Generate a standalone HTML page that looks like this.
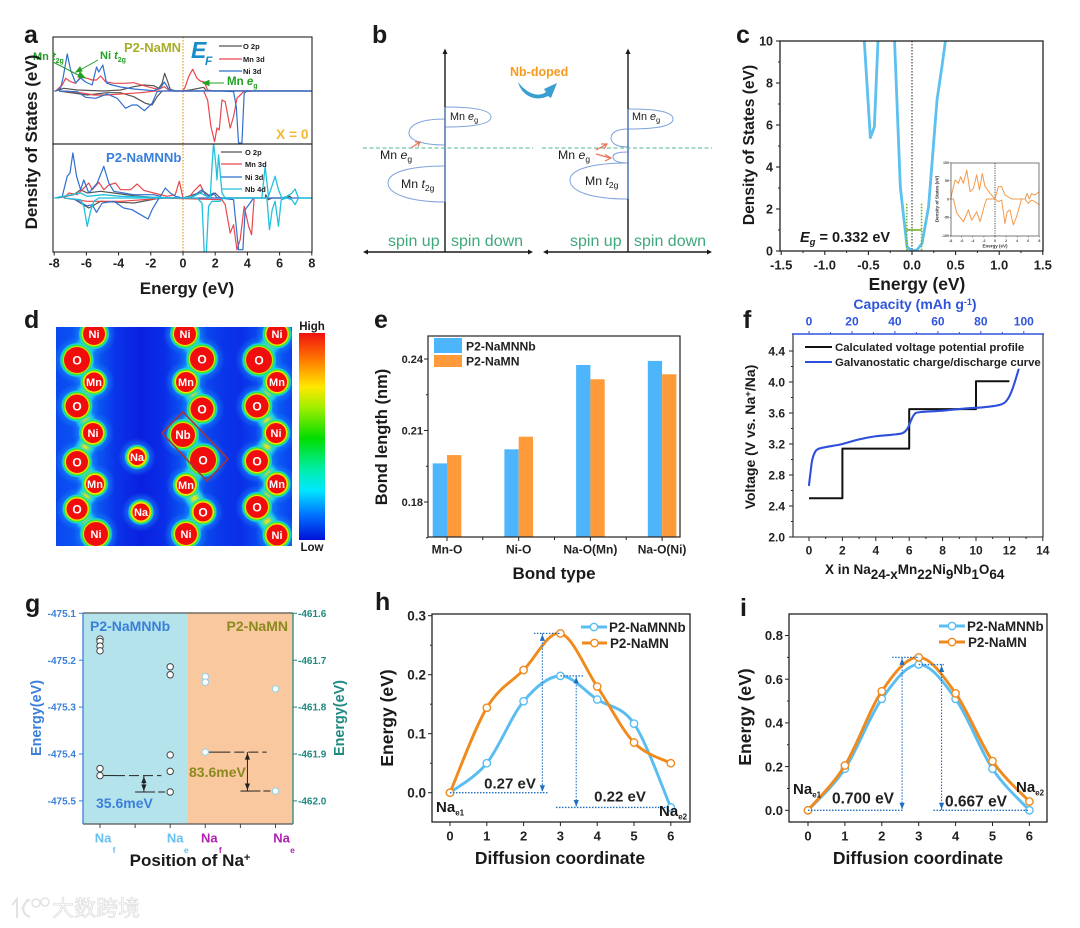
<!DOCTYPE html>
<html lang="en">
<head>
<meta charset="utf-8">
<title>Nb-doped P2-NaMN composite figure</title>
<style>
html,body{margin:0;padding:0;background:#fff;width:1080px;height:928px;overflow:hidden}
svg{display:block;filter:blur(0.35px)}
text{font-family:"Liberation Sans","Noto Sans CJK SC",sans-serif;font-weight:bold;fill:#1a1a1a}
.n{font-weight:normal}
</style>
</head>
<body>
<svg id="fig" xmlns="http://www.w3.org/2000/svg" width="1080" height="928" viewBox="0 0 1080 928">
<defs>
<clipPath id="clipATop"><rect x="53" y="37" width="259" height="107"/></clipPath>
<clipPath id="clipABot"><rect x="53" y="144" width="259" height="108"/></clipPath>
<clipPath id="clipC"><rect x="780" y="41" width="263" height="210"/></clipPath>
<clipPath id="clipD"><rect x="56" y="327" width="236" height="219"/></clipPath>
<filter id="ridgeBlur" x="-20%" y="-20%" width="140%" height="140%"><feGaussianBlur stdDeviation="1.6"/></filter>
<linearGradient id="mapBg" x1="0" x2="1" y1="0" y2="0">
<stop offset="0" stop-color="#0a47f0"/><stop offset=".16" stop-color="#0a60f5"/><stop offset=".25" stop-color="#0a35ea"/><stop offset=".36" stop-color="#0a20e0"/><stop offset=".46" stop-color="#0a2ee8"/><stop offset=".56" stop-color="#0a60f5"/><stop offset=".69" stop-color="#0a38ea"/><stop offset=".78" stop-color="#0a2ee8"/><stop offset=".93" stop-color="#0a60f5"/><stop offset="1" stop-color="#0a40f0"/>
</linearGradient>
<linearGradient id="cbar" x1="0" x2="0" y1="0" y2="1">
<stop offset="0" stop-color="#f01010"/><stop offset=".13" stop-color="#ff7a00"/><stop offset=".26" stop-color="#ffe800"/><stop offset=".36" stop-color="#a0ee00"/><stop offset=".51" stop-color="#00dd00"/><stop offset=".66" stop-color="#00eeaa"/><stop offset=".76" stop-color="#00e8ff"/><stop offset=".88" stop-color="#0070ff"/><stop offset="1" stop-color="#0010d8"/>
</linearGradient>
<radialGradient id="atomGlow">
<stop offset="0" stop-color="#ffe000"/><stop offset=".7" stop-color="#ffe000"/><stop offset=".76" stop-color="#a0f000"/><stop offset=".82" stop-color="#20dd50"/><stop offset=".9" stop-color="#20e8e0" stop-opacity=".8"/><stop offset="1" stop-color="#0a70f5" stop-opacity="0"/>
</radialGradient>
<radialGradient id="atomHalo">
<stop offset=".5" stop-color="#1a8cf8" stop-opacity=".85"/><stop offset="1" stop-color="#1a8cf8" stop-opacity="0"/>
</radialGradient>
</defs>

<g id="panelA">
<text x="24" y="43" font-size="25">a</text>
<line x1="183" y1="37" x2="183" y2="252" stroke="#f0a030" stroke-width="1.3" stroke-dasharray="1.5 1.5"/>
</g>
<g id="panelALabels">
<text x="124" y="52" font-size="13" style="fill:#a8ad2a">P2-NaMN</text>
<text x="191" y="58" font-size="23" font-style="italic" style="fill:#1a8cc8">E</text>
<text x="205" y="65" font-size="12" font-style="italic" style="fill:#1a8cc8">F</text>
<text x="276" y="139" font-size="13.8" style="fill:#f7b733">X = 0</text>
<text x="106" y="162" font-size="13.2" style="fill:#3a7fd8">P2-NaMNNb</text>
<text x="33" y="60" font-size="11" style="fill:#22a022">Mn <tspan font-style="italic">t</tspan><tspan dy="3" font-size="7">2g</tspan></text>
<text x="100" y="59" font-size="11" style="fill:#22a022">Ni <tspan font-style="italic">t</tspan><tspan dy="3" font-size="7">2g</tspan></text>
<text x="227" y="85" font-size="11.5" style="fill:#22a022">Mn <tspan font-style="italic">e</tspan><tspan dy="3" font-size="7">g</tspan></text>
<path d="M98 60L80 70M76 72L82 71L80 67Z M53 62L82 77M85 78L80 72L78 77Z M224 83L206 83M203 83L209 80.500L209 85.500Z" stroke="#22a022" stroke-width="1" fill="#22a022"/>
<g font-size="7.5">
<line x1="219" x2="242" y1="46" y2="46" stroke="#555" stroke-width="1.2"/><text x="243" y="49">O 2p</text>
<line x1="219" x2="242" y1="59" y2="59" stroke="#e8474c" stroke-width="1.2"/><text x="243" y="62">Mn 3d</text>
<line x1="219" x2="242" y1="71" y2="71" stroke="#2f6fd0" stroke-width="1.2"/><text x="243" y="74">Ni 3d</text>
</g>
<g font-size="7.5">
<line x1="221" x2="242" y1="152" y2="152" stroke="#555" stroke-width="1.2"/><text x="245" y="155">O 2p</text>
<line x1="221" x2="242" y1="164" y2="164" stroke="#e8474c" stroke-width="1.2"/><text x="245" y="167">Mn 3d</text>
<line x1="221" x2="242" y1="177" y2="177" stroke="#2f6fd0" stroke-width="1.2"/><text x="245" y="180">Ni 3d</text>
<line x1="221" x2="242" y1="189" y2="189" stroke="#22c1dc" stroke-width="1.2"/><text x="245" y="192">Nb 4d</text>
</g>
<text x="31" y="142" font-size="17" text-anchor="middle" transform="rotate(-90 31 142)" dy="6">Density of States (eV)</text>
<text x="187" y="294" font-size="17" text-anchor="middle">Energy (eV)</text>
</g>

<g id="panelB">
<text x="372" y="43" font-size="25">b</text>
<g fill="none" stroke="#7fa3dc" stroke-width="1">
<path d="M445 107C475 107 491 110 491 117C491 124 475 127 445 127"/>
<path d="M445 119C420 119 409 125 409 133C409 141 425 145 445 145"/>
<path d="M445 166C410 166 388 172 388 183C388 194 410 202 445 202"/>
<path d="M628 109C658 109 673 112 673 119C673 126 658 129 628 129"/>
<path d="M628 129C618 129 611 132 611 138C611 144 618 147 628 147"/>
<path d="M628 152C619 152 613 153 613 157C613 161 619 163 628 163"/>
<path d="M628 163C590 163 570 170 570 180C570 191 590 199 628 199"/>
</g>
<g stroke="#1a1a1a" stroke-width="1.4">
<line x1="445" y1="52" x2="445" y2="252"/>
<line x1="365" y1="252" x2="531" y2="252"/>
<line x1="628" y1="52" x2="628" y2="252"/>
<line x1="545" y1="252" x2="710" y2="252"/>
</g>
<line x1="445" y1="107" x2="445" y2="202" stroke="#5f8fd8" stroke-width="1.2"/>
<line x1="628" y1="109" x2="628" y2="199" stroke="#5f8fd8" stroke-width="1.2"/>
<path d="M445 48.500L442.500 54L447.500 54Z M363 252L368 249.500L368 254.500Z M533 252L528 249.500L528 254.500Z M628 48.500L625.500 54L630.500 54Z M543 252L548 249.500L548 254.500Z M712 252L707 249.500L707 254.500Z" fill="#1a1a1a"/>
<line x1="363" y1="148" x2="533" y2="148" stroke="#4fb58f" stroke-width="1" stroke-dasharray="4 2.500"/>
<line x1="542" y1="148" x2="712" y2="148" stroke="#4fb58f" stroke-width="1" stroke-dasharray="4 2.500"/>
<path d="M411 148L419 142.500M415 142L420 142L418 146.500 M596 150L606 144.500M601 144L607 144L604 149 M596 154L610 158M605 154.500L611 158L605 161" fill="none" stroke="#e8735a" stroke-width="1.2"/>
<g font-size="10.8">
<text class="n" x="450" y="120">Mn <tspan font-style="italic">e</tspan><tspan dy="2.500" font-size="7.500">g</tspan></text>
<text class="n" x="380" y="159" font-size="12.3">Mn <tspan font-style="italic">e</tspan><tspan dy="3" font-size="8.500">g</tspan></text>
<text class="n" x="401" y="188" font-size="12.300">Mn <tspan font-style="italic">t</tspan><tspan dy="3" font-size="8.500">2g</tspan></text>
<text class="n" x="632" y="120">Mn <tspan font-style="italic">e</tspan><tspan dy="2.500" font-size="7.500">g</tspan></text>
<text class="n" x="558" y="159" font-size="12.3">Mn <tspan font-style="italic">e</tspan><tspan dy="3" font-size="8.500">g</tspan></text>
<text class="n" x="585" y="185" font-size="12.300">Mn <tspan font-style="italic">t</tspan><tspan dy="3" font-size="8.500">2g</tspan></text>
</g>
<g font-size="16">
<text class="n" x="388" y="246" style="fill:#3fa87a">spin up</text>
<text class="n" x="451" y="246" style="fill:#3fa87a">spin down</text>
<text class="n" x="570" y="246" style="fill:#3fa87a">spin up</text>
<text class="n" x="634" y="246" style="fill:#3fa87a">spin down</text>
</g>
<text x="510" y="76" font-size="12.5" style="fill:#f79a1e">Nb-doped</text>
<path d="M518 82C521 94 534 103 548 96L551 98L557 83L544 89L546 92C538 98 526 93 518 82Z" fill="#3a9ed0"/>
</g>

<g id="panelC">
<text x="736" y="43" font-size="25">c</text>
<text x="748" y="145" dy="6" font-size="15.6" text-anchor="middle" transform="rotate(-90 748 145)">Density of States (eV)</text>
<text x="917" y="290" font-size="17.4" text-anchor="middle">Energy (eV)</text>
<text x="800" y="242" font-size="14.5"><tspan font-style="italic">E</tspan><tspan dy="3" font-size="9.500" font-style="italic">g</tspan><tspan dy="-3"> = 0.332 eV</tspan></text>
</g>

<g id="panelD">
<text x="24" y="328" font-size="25">d</text>
<rect x="56" y="327" width="236" height="219" fill="url(#mapBg)"/>
<rect x="299" y="333" width="26" height="207" fill="url(#cbar)"/>
<text x="312" y="330" font-size="11.5" text-anchor="middle">High</text>
<text x="312" y="551" font-size="11.5" text-anchor="middle">Low</text>
</g>

<g id="panelE">
<text x="374" y="328" font-size="25">e</text>
<text x="381" y="437" dy="6" font-size="16.5" text-anchor="middle" transform="rotate(-90 381 437)">Bond length (nm)</text>
<text x="554" y="579" font-size="17" text-anchor="middle">Bond type</text>
</g>

<g id="panelF">
<text x="743" y="328" font-size="25">f</text>
<text x="915" y="309" font-size="14" text-anchor="middle" style="fill:#2f55dc">Capacity (mAh g<tspan dy="-4" font-size="9">-1</tspan><tspan dy="4">)</tspan></text>
<text x="750" y="437" dy="5" font-size="14" text-anchor="middle" transform="rotate(-90 750 437)">Voltage (V vs. Na<tspan dy="-4" font-size="9.500">+</tspan><tspan dy="4">/Na)</tspan></text>
<text x="825" y="574" font-size="13.5">X in Na<tspan dy="5">24-x</tspan><tspan dy="-5">Mn</tspan><tspan dy="5">22</tspan><tspan dy="-5">Ni</tspan><tspan dy="5">9</tspan><tspan dy="-5">Nb</tspan><tspan dy="5">1</tspan><tspan dy="-5">O</tspan><tspan dy="5">64</tspan></text>
</g>

<g id="panelG">
<text x="25" y="612" font-size="25">g</text>
<rect x="83" y="613" width="105" height="211" fill="#b5e3ec"/>
<rect x="188" y="613" width="105" height="211" fill="#fac89e"/>
<text x="90" y="631" font-size="14" style="fill:#3a7fd8">P2-NaMNNb</text>
<text x="288" y="631" font-size="14" text-anchor="end" style="fill:#8b8a1e">P2-NaMN</text>
<text x="96" y="808" font-size="14" style="fill:#3a7fd8">35.6meV</text>
<text x="189" y="777" font-size="14" style="fill:#8b8a1e">83.6meV</text>
<text x="36" y="718" dy="5" font-size="14.4" text-anchor="middle" transform="rotate(-90 36 718)" style="fill:#3a7fd8">Energy(eV)</text>
<text x="339" y="718" dy="5" font-size="14.4" text-anchor="middle" transform="rotate(-90 339 718)" style="fill:#1f8a80">Energy(eV)</text>
<text x="190" y="866" font-size="17" text-anchor="middle">Position of Na<tspan dy="-5" font-size="11">+</tspan></text>
</g>

<g id="panelH">
<text x="375" y="610" font-size="25">h</text>
<text x="387" y="718" dy="6" font-size="17.5" text-anchor="middle" transform="rotate(-90 387 718)">Energy (eV)</text>
<text x="560" y="864" font-size="17.5" text-anchor="middle">Diffusion coordinate</text>
</g>

<g id="panelI">
<text x="740" y="616" font-size="25">i</text>
<text x="745" y="717" dy="6" font-size="17.5" text-anchor="middle" transform="rotate(-90 745 717)">Energy (eV)</text>
<text x="918" y="864" font-size="17.5" text-anchor="middle">Diffusion coordinate</text>
</g>

<g id="watermark">
<path d="M12 905L17 899L17 918 M30 900C22 902 20 914 30 917 M22 909L28 899" fill="none" stroke="#e2e2e2" stroke-width="2"/>
<circle cx="36" cy="903" r="4" fill="#fff" stroke="#e2e2e2" stroke-width="1.5"/>
<circle cx="45" cy="902" r="4" fill="#fff" stroke="#e2e2e2" stroke-width="1.5"/>
<text x="52" y="916" font-size="22" stroke="#d8d8d8" stroke-width=".6" style="fill:#fbfbfb;font-weight:normal">大数跨境</text>
</g>
</svg>

<script>
/* ---------- panel a data (eV, arbitrary DOS units) ---------- */
const aTopOUpE=[-7.91,-7.4,-6.57,-4.92,-3.88,-3.06,-2.44,-1.82,-1.51,-1.3,-1.14,-.95,-.79,-.48,0,.45,1.28,1.45,8];
const aTopOUpV=[0,2.7,1,0,1,4.3,6,5.3,2.7,7.7,17.7,9.3,1.7,0,0,1,3.7,.3,0];
const aTopODownE=[-7.71,-5.95,-4.71,-3.88,-3.06,-2.33,-1.92,-1.61,-1.3];
const aTopODownV=[0,-4,-1.7,-1.7,-5.7,-12.3,-14,-5.7,0];
const aTopMnUpE=[-7.91,-7.5,-7.29,-6.98,-6.67,-6.36,-5.95,-5.64,-5.37,-5.12,-4.81,-4.3,-3.68,-3.06,-2.44,-1.82,-1.51,-1.16,-.89,-.58,0,.14,.35,.6,.87,1.07,1.32,1.53,1.9,8];
const aTopMnUpV=[0,6,12.7,9.3,7.7,14.3,12.7,11,11,15,9.3,7.7,7.7,8.3,5.3,2.7,1.7,4.3,1,0,0,4.3,14.3,21.7,12.7,10,9,1,0,0];
const aTopMnDownE=[-7.4,-6.36,-5.54,-4.71,-3.88,-2.64,-1.71,1.28,1.53,1.74,1.96,2.11,2.25,2.42,2.62,2.93,3.14,3.35,3.76,4.38];
const aTopMnDownV=[0,-1.7,-4,-4,-3,-1.7,0,0,-9,-36,-50.7,-37,-39,-9,-10.7,-37,-25.7,-7.3,-.7,0];
const aTopNiUpE=[-8,-7.91,-7.6,-7.44,-7.19,-6.98,-6.67,-6.36,-6.05,-5.64,-5.37,-5.23,-4.98,-4.75,-4.4,-3.88,-3.06,-1.82,-1.4,-1.16,-.89,-.58,0,8];
const aTopNiUpV=[0,0,2.7,14,37,21,8,13,9,6,24,19,26,8,6,4,2,.3,3,9,2,0,0,0];
const aTopNiDownE=[-7.7,-6.57,-6.05,-5.43,-4.71,-4.09,-3.57,-3.16,-2.85,-2.4,-1.92,-1.61,-1.3,2.31,3.14,3.31,3.45,3.66,3.8,3.97,8];
const aTopNiDownV=[0,-.7,-6.3,-7.3,-3,-7.3,-17.3,-14,-14,-19.7,-12.3,-.7,0,0,-.7,-15.7,-52,-52,-2.3,0,0];
const aBotOUpE=[-7.81,-6.78,-6.36,-5.95,-5.12,-4.3,-3.06,-1.82,0,.66,1.28,1.69,2,2.31,5.1,5.14,5.31,5.52,6.45,6.61,6.76];
const aBotOUpV=[0,3.3,8.3,5,6.7,5,2.3,.7,0,3.3,6.7,1.7,5,0,0,3.3,-1.7,0,0,2,0];
const aBotODownE=[-6.78,-5.85,-5.12,-3.06,-1.61,-1.2];
const aBotODownV=[-1,-10,-3.3,-5,-.7,0];
const aBotMnUpE=[-7.4,-7.09,-6.57,-6.26,-5.85,-5.64,-5.23,-4.92,-4.61,-4.19,-3.88,-3.26,-2.85,-2.44,-1.82,-.99,-.48,-.23,0,.35,.66,1.07,1.38,1.8];
const aBotMnUpV=[0,5,3.3,8.3,15,8.3,15.7,8.3,13,15,8.3,8.3,14,7.7,5,1.7,3.3,16.7,0,0,6.7,13.3,3.3,0];
const aBotMnDownE=[-7.4,-5.95,-3.88,-1.82,-1.4,2.42,2.62,2.93,3.14,3.35,3.55,3.8,4.07,4.26,4.42];
const aBotMnDownV=[0,-3.3,-3.3,-1,0,-1.7,-6.7,-35,-26.7,-51.7,-41.7,-8.3,-28,-36.7,0];
const aBotNiUpE=[-7.91,-7.5,-7.19,-7.02,-6.84,-6.61,-6.36,-6.16,-5.85,-5.33,-4.92,-4.61,-4.3,-3.06,-1.82,-1.4,-1.1,-.79,-.48,0,.45,.76,1.18,1.49,1.9,2.11,8];
const aBotNiUpV=[0,1.7,21.7,25,45,21.7,8.3,18,5,15,31.7,15,6.7,3.3,3.3,1.7,10,5,1.7,0,0,3.3,8.3,1.7,5,0,0];
const aBotNiDownE=[-6.78,-5.95,-5.64,-5.37,-5.02,-4.3,-3.68,-3.16,-2.64,-2.17,-1.92,-1.51,-1.2,2.31,3.14,3.45,3.72,3.86,4.17,4.38];
const aBotNiDownV=[-.7,-8,-6.7,-14.3,-5,-3.3,-10,-11.7,-16.7,-21,-11.7,-.7,0,0,-1.7,-51.7,-51.7,-11.7,-5,0];
const aBotNbUpE=[-8,-6.36,-5.95,-4.92,-3.88,0,.66,1.07,1.49,1.69,1.8,1.9,2.05,2.11,2.21,2.42,2.62,4.9,5.1,5.31,5.52,5.72,5.93,6.14,6.45,6.76,6.96,7.17,8];
const aBotNbUpV=[0,5,1.7,3.3,1.7,0,1.7,5,1.7,0,31.7,55,31.7,18,43,5,0,0,31.7,1.7,11.7,21.7,8.3,0,1.7,5,9,0,0];
const aBotNbDownE=[-7.4,-6.36,-6.16,-5.95,-5.74,-5.54,-5.23,.87,1.18,1.32,1.45,1.59,1.8,2.31,2.52,5.21,5.37,5.54,5.72,5.93,6.1,6.45,6.76,6.96,7.17,8];
const aBotNbDownV=[0,-1.7,-8.3,-28.3,-13,-3.3,0,0,-5,-55,-55,-8.3,-3.3,-3.3,0,0,-31.7,-11.7,-3.3,-28.3,-1.7,0,-1.7,-6.7,0,0];
const aXTicks=[-8,-6,-4,-2,0,2,4,6,8];

/* ---------- panel c data ---------- */
const cLeftE=[-.547,-.478,-.432,-.39];
const cLeftDos=[10,5.4,5.9,10];
const cRightE=[-.2,-.134,-.057,0,.057,.115,.19,.287,.344,.383];
const cRightDos=[10,3.06,.2,0,.05,.36,2.1,7.2,8.8,10];
const cXTicks=[-1.5,-1,-.5,0,.5,1,1.5];
const cXTickLabels=['-1.5','-1.0','-0.5','0.0','0.5','1.0','1.5'];
const cYTicks=[0,2,4,6,8,10];
const cGapEdges=[-.06,.11];
const cInsetUpE=[-8,-7.8,-7.2,-6.6,-6.2,-5.7,-5.1,-4.5,-3.9,-3.3,-2.8,-2.3,-1.8,-.9,0,.6,1.2,1.8,3,5.4,5.8,6.2,6.6,7.2,8];
const cInsetUpV=[0,15,52,43,61,43,79,20,29,66,25,70,34,16,0,34,34,11,0,0,15,0,15,11,20];
const cInsetDownE=[-8,-7.5,-6.9,-5.7,-4.8,-4.2,-3.3,-2.7,-1.8,-1.5,0,.6,1.2,1.8,2.2,2.7,3.3,3.9,4.8,5.4,6,6.6,7.2,8];
const cInsetDownV=[0,0,-39,-62,-30,-58,-35,-62,-12,0,0,-7,-3,-67,-35,-30,-71,-48,0,0,-12,-3,-7,-16];
const cInsetXTicks=[-8,-6,-4,-2,0,2,4,6,8];
const cInsetYTicks=[-100,-50,0,50,100];

/* ---------- panel d atoms ---------- */
const dAtomLabels=['Ni','O','Mn','O','Ni','O','Mn','O','Ni','Ni','O','Mn','O','Nb','O','Mn','O','Ni','Ni','O','Mn','O','Ni','O','Mn','O','Ni','Na','Na'];
const dAtomCol=[94,77,94,77,93,77,95,77,96,185,202,186,202,183,203,186,203,186,277,259,277,257,276,257,277,257,277,137,141];
const dAtomRow=[334,360,382,406,433,462,484,509,534,334,359,382,409,435,460,485,512,534,334,360,382,406,433,461,484,507,535,457,512];
const dAtomRadius=[11,13,9.5,11.5,10,11,9,10.5,12,11,12,10,11.5,12,13,9,9.5,11,10.5,13,10,11.5,10,11,9.5,11,10.5,8,8.5];
const dChainStarts=[0,9,18];
const dChainLength=9;

/* ---------- panel e data ---------- */
const eCategories=['Mn-O','Ni-O','Na-O(Mn)','Na-O(Ni)'];
const eNbSeries=[.1962,.2021,.2375,.2392];
const eMnSeries=[.1997,.2074,.2315,.2336];
const eYTicks=[.18,.21,.24];
const eYTickLabels=['0.18','0.21','0.24'];
const eYMinorTicks=[.165,.195,.225];

/* ---------- panel f data ---------- */
const fStepX=[0,2,2,6,6,10,10,12];
const fStepV=[2.5,2.5,3.14,3.14,3.65,3.65,4.01,4.01];
const fCurveX=[0,.1,.2,.4,.6,1,2,3,4,5,5.6,5.9,6.1,6.3,6.6,8,9.5,10.5,11.5,11.9,12.2,12.55];
const fCurveV=[2.67,2.85,3,3.11,3.14,3.16,3.2,3.26,3.3,3.32,3.34,3.4,3.5,3.58,3.61,3.63,3.66,3.675,3.71,3.78,3.92,4.16];
const fXTicks=[0,2,4,6,8,10,12,14];
const fYTicks=[2,2.4,2.8,3.2,3.6,4,4.4];
const fYTickLabels=['2.0','2.4','2.8','3.2','3.6','4.0','4.4'];
const fCapTicks=[0,20,40,60,80,100];

/* ---------- panel g data ---------- */
const gNbFavoured=[-475.155,-475.16,-475.17,-475.18,-475.431,-475.446];
const gNbEdge=[-475.214,-475.231,-475.402,-475.437,-475.481];
const gMnFavoured=[-461.735,-461.747,-461.896];
const gMnEdge=[-461.761,-461.979];
const gLeftTicks=[-475.1,-475.2,-475.3,-475.4,-475.5];
const gRightTicks=[-461.6,-461.7,-461.8,-461.9,-462];
const gLeftTickLabels=['-475.1','-475.2','-475.3','-475.4','-475.5'];
const gRightTickLabels=['-461.6','-461.7','-461.8','-461.9','-462.0'];
const gCategorySlots=[0,2,3,5];
const gCategoryNames=['f','e','f','e'];

/* ---------- panel h and i data ---------- */
const diffCoords=[0,1,2,3,4,5,6];
const hNbEnergy=[0,.05,.155,.198,.158,.117,-.025];
const hMnEnergy=[0,.144,.208,.27,.18,.085,.05];
const iNbEnergy=[0,.19,.51,.667,.51,.19,0];
const iMnEnergy=[0,.205,.545,.7,.535,.225,.04];
const hYTicks=[0,.1,.2,.3];
const hYTickLabels=['0.0','0.1','0.2','0.3'];
const iYTicks=[0,.2,.4,.6,.8];
const iYTickLabels=['0.0','0.2','0.4','0.6','0.8'];

/* ---------- helpers ---------- */
const NS='http://www.w3.org/2000/svg';
function mk(tag,attrs,parent,name){
  const el=document.createElementNS(NS,tag);
  
  
  for(const k in attrs)el.setAttribute(k,attrs[k]);
  parent.appendChild(el);
  return el;
}
function line(p,x1,y1,x2,y2,color,w,name,dash){
  const a={x1:x1,y1:y1,x2:x2,y2:y2,stroke:color,'stroke-width':w};
  if(dash)a['stroke-dasharray']=dash;
  return mk('line',a,p,name);
}
function txt(p,x,y,s,size,anchor,color,name){
  const t=mk('text',{x:x,y:y+size*.36,'font-size':size,'text-anchor':anchor},p,name);
  t.style.fill=color||'#1a1a1a';
  t.textContent=s;
  return t;
}
function poly(p,xs,ys,fx,fy,color,w,name,clip){
  let d='';
  xs.forEach((x,i)=>{d+=(i?'L':'M')+fx(x).toFixed(2)+' '+fy(ys[i]).toFixed(2);});
  const a={d:d,fill:'none',stroke:color,'stroke-width':w,'stroke-linejoin':'round'};
  if(clip)a['clip-path']='url(#'+clip+')';
  return mk('path',a,p,name);
}
function smooth(p,xs,ys,fx,fy,color,w,name){
  const P=xs.map((x,i)=>[fx(x),fy(ys[i])]);
  let d='M'+P[0][0]+' '+P[0][1];
  for(let i=0;i<P.length-1;i++){
    const a=P[Math.max(i-1,0)],b=P[i],c=P[i+1],e=P[Math.min(i+2,P.length-1)];
    d+='C'+(b[0]+(c[0]-a[0])/6).toFixed(2)+' '+(b[1]+(c[1]-a[1])/6).toFixed(2)+' '+(c[0]-(e[0]-b[0])/6).toFixed(2)+' '+(c[1]-(e[1]-b[1])/6).toFixed(2)+' '+c[0].toFixed(2)+' '+c[1].toFixed(2);
  }
  return mk('path',{d:d,fill:'none',stroke:color,'stroke-width':w,'stroke-linecap':'round'},p,name);
}
function box(p,x,y,w,h,color,sw,name){
  return mk('rect',{x:x,y:y,width:w,height:h,fill:'none',stroke:color,'stroke-width':sw},p,name);
}
function tri(p,x,y,dir,color,name){
  const s=dir==='up'?-1:1;
  return mk('path',{d:'M'+x+' '+y+'L'+(x-2.6)+' '+(y-s*6.5)+'L'+(x+2.6)+' '+(y-s*6.5)+'Z',fill:color},p,name);
}
const $=id=>document.getElementById(id);
const DARK='#222',RED='#e8474c',NI='#2f6fd0',GREY='#555',NB='#22c1dc';

/* ---------- panel a ---------- */
(function(){
  const p=$('panelA');
  const ax=e=>183+e*16.1,topY=v=>91-v,botY=v=>198-v;
  poly(p,aTopOUpE,aTopOUpV,ax,topY,GREY,1.2,'top-o2p-up','clipATop');
  poly(p,aTopODownE,aTopODownV,ax,topY,GREY,1.2,'top-o2p-down','clipATop');
  poly(p,aTopMnUpE,aTopMnUpV,ax,topY,RED,1.2,'top-mn3d-up','clipATop');
  poly(p,aTopMnDownE,aTopMnDownV,ax,topY,RED,1.2,'top-mn3d-down','clipATop');
  poly(p,aTopNiUpE,aTopNiUpV,ax,topY,NI,1.2,'top-ni3d-up','clipATop');
  poly(p,aTopNiDownE,aTopNiDownV,ax,topY,NI,1.2,'top-ni3d-down','clipATop');
  poly(p,aBotOUpE,aBotOUpV,ax,botY,GREY,1.2,'bottom-o2p-up','clipABot');
  poly(p,aBotODownE,aBotODownV,ax,botY,GREY,1.2,'bottom-o2p-down','clipABot');
  poly(p,aBotMnUpE,aBotMnUpV,ax,botY,RED,1.2,'bottom-mn3d-up','clipABot');
  poly(p,aBotMnDownE,aBotMnDownV,ax,botY,RED,1.2,'bottom-mn3d-down','clipABot');
  poly(p,aBotNiUpE,aBotNiUpV,ax,botY,NI,1.2,'bottom-ni3d-up','clipABot');
  poly(p,aBotNiDownE,aBotNiDownV,ax,botY,NI,1.2,'bottom-ni3d-down','clipABot');
  poly(p,aBotNbUpE,aBotNbUpV,ax,botY,NB,1.3,'bottom-nb4d-up','clipABot');
  poly(p,aBotNbDownE,aBotNbDownV,ax,botY,NB,1.3,'bottom-nb4d-down','clipABot');
  box(p,53,37,259,107,DARK,1.1,'top-dos-frame');
  box(p,53,144,259,108,DARK,1.1,'bottom-dos-frame');
  aXTicks.forEach(t=>{
    line(p,ax(t),252,ax(t),255.5,DARK,1,'a-x-tick');
    txt(p,ax(t),263,String(t),12.5,'middle',DARK,'a-x-tick-label');
  });
})();

/* ---------- panel c ---------- */
(function(){
  const p=$('panelC');
  const x=e=>912+e*87.2,y=v=>251-v*21;
  line(p,x(0),41,x(0),251,'#222',1,'c-zero-line','1.5 1.5');
  poly(p,cLeftE,cLeftDos,x,y,'#5cc0f0',2.8,'c-dos-curve-left','clipC');
  poly(p,cRightE,cRightDos,x,y,'#5cc0f0',2.8,'c-dos-curve-right','clipC');
  cGapEdges.forEach(e=>line(p,x(e),y(2.25),x(e),251,'#6fb52a',1.6,'c-gap-edge','1.5 1.5'));
  line(p,x(cGapEdges[0]),y(1),x(cGapEdges[1]),y(1),'#6fb52a',1.6,'c-gap-width');
  box(p,780,41,263,210,DARK,1.3,'c-frame');
  cXTicks.forEach((t,i)=>{
    line(p,x(t),251,x(t),255,DARK,1.1,'c-x-tick');
    txt(p,x(t),265,cXTickLabels[i],13,'middle',DARK,'c-x-tick-label');
    if(i<cXTicks.length-1)line(p,x(t+.25),251,x(t+.25),253,DARK,1,'c-x-minor-tick');
  });
  cYTicks.forEach((t,i)=>{
    line(p,776,y(t),780,y(t),DARK,1.1,'c-y-tick');
    txt(p,773,y(t),String(t),12.5,'end',DARK,'c-y-tick-label');
    if(i<cYTicks.length-1)line(p,778,y(t+1),780,y(t+1),DARK,1,'c-y-minor-tick');
  });
  /* inset */
  const ix=e=>995+e*5.54,iy=v=>199-v*.365;
  line(p,ix(0),163,ix(0),236,'#222',.8,'inset-zero-line','1.2 1.2');
  poly(p,cInsetUpE,cInsetUpV,ix,iy,'#f29a4a',1,'inset-dos-up');
  poly(p,cInsetDownE,cInsetDownV,ix,iy,'#f29a4a',1,'inset-dos-down');
  box(p,951,163,88,73,'#444',.7,'inset-frame');
  cInsetXTicks.forEach(t=>{
    line(p,ix(t),236,ix(t),237.5,'#444',.5,'inset-x-tick');
    txt(p,ix(t),240.5,String(t),3.6,'middle','#444','inset-x-tick-label');
  });
  cInsetYTicks.forEach(t=>{
    line(p,949.5,iy(t),951,iy(t),'#444',.5,'inset-y-tick');
    txt(p,949,iy(t),String(t),3.6,'end','#444','inset-y-tick-label');
  });
  txt(p,995,246,'Energy (eV)',4.5,'middle','#333','inset-x-title');
  const t=txt(p,937,199,'Density of States (eV)',4.5,'middle','#333','inset-y-title');
  t.setAttribute('transform','rotate(-90 937 199)');
})();

/* ---------- panel d ---------- */
(function(){
  const p=$('panelD');
  const g=mk('g',{'clip-path':'url(#clipD)'},p,'atom-map');
  dAtomLabels.forEach((a,i)=>{
    mk('circle',{cx:dAtomCol[i],cy:dAtomRow[i],r:dAtomRadius[i]+11,fill:'url(#atomHalo)'},g,'atom-halo');
  });
  const ridges=mk('g',{filter:'url(#ridgeBlur)','stroke-linecap':'round'},g,'chain-ridges');
  [[17,'#20e0f0'],[11,'#20dd60'],[5,'#e8e800']].forEach(layer=>{
    dChainStarts.forEach(s=>{
      for(let i=s;i<s+dChainLength-1;i++){
        line(ridges,dAtomCol[i],dAtomRow[i],dAtomCol[i+1],dAtomRow[i+1],layer[1],layer[0],'chain-ridge');
      }
    });
  });
  dAtomLabels.forEach((a,i)=>{
    mk('circle',{cx:dAtomCol[i],cy:dAtomRow[i],r:dAtomRadius[i]+5,fill:'url(#atomGlow)'},g,'atom-glow');
  });
  dAtomLabels.forEach((a,i)=>{
    mk('circle',{cx:dAtomCol[i],cy:dAtomRow[i],r:dAtomRadius[i],fill:'#f20d0d'},g,'atom-core');
  });
  dAtomLabels.forEach((a,i)=>{
    const s=a==='O'?12:a==='Nb'?11.5:11;
    txt(g,dAtomCol[i],dAtomRow[i],a,s,'middle','#fff','atom-label');
  });
  mk('polygon',{points:'183,412 228,459 207,481 162,433',fill:'none',stroke:'#a8323c','stroke-width':1.6},p,'nb-o-highlight');
})();

/* ---------- panel e ---------- */
(function(){
  const p=$('panelE');
  const y=v=>502-(v-.18)*2383;
  const base=537,bw=14.3,gx=i=>447+i*71.7;
  eCategories.forEach((c,i)=>{
    mk('rect',{x:gx(i)-bw,y:y(eNbSeries[i]),width:bw,height:base-y(eNbSeries[i]),fill:'#4db5fb'},p,'bar-p2-namnnb');
    mk('rect',{x:gx(i),y:y(eMnSeries[i]),width:bw,height:base-y(eMnSeries[i]),fill:'#ff9a3a'},p,'bar-p2-namn');
    txt(p,gx(i),549,c,12,'middle',DARK,'e-category-label');
    line(p,gx(i),537,gx(i),541,DARK,1,'e-x-tick');
    if(i<3)line(p,gx(i)+35.8,537,gx(i)+35.8,540,DARK,1,'e-x-minor-tick');
  });
  box(p,428,336,252,201,DARK,1.2,'e-frame');
  eYTicks.forEach((t,i)=>{
    line(p,424,y(t),428,y(t),DARK,1,'e-y-tick');
    txt(p,423,y(t),eYTickLabels[i],11,'end',DARK,'e-y-tick-label');
  });
  eYMinorTicks.forEach(t=>line(p,426,y(t),428,y(t),DARK,1,'e-y-minor-tick'));
  mk('rect',{x:434,y:338,width:28,height:15,fill:'#4db5fb'},p,'legend-p2-namnnb-swatch');
  mk('rect',{x:434,y:355,width:28,height:12,fill:'#ff9a3a'},p,'legend-p2-namn-swatch');
  txt(p,466,346,'P2-NaMNNb',12.2,'start',DARK,'legend-p2-namnnb');
  txt(p,466,361,'P2-NaMN',12.2,'start',DARK,'legend-p2-namn');
})();

/* ---------- panel f ---------- */
(function(){
  const p=$('panelF');
  const x=v=>809+v*16.7,y=v=>537-(v-2)*77.5,cap=c=>809+c*2.148;
  const BLUE='#2d4fdc',AX='#2f55dc';
  poly(p,fStepX,fStepV,x,y,'#111',2,'calculated-voltage-profile');
  smooth(p,fCurveX,fCurveV,x,y,BLUE,2.1,'galvanostatic-curve');
  line(p,793,334,793,537,DARK,1.1,'f-left-axis');
  line(p,1043,334,1043,537,DARK,1.1,'f-right-axis');
  line(p,793,537,1043,537,DARK,1.1,'f-bottom-axis');
  line(p,792,334,1044,334,AX,1.5,'f-top-axis');
  fXTicks.forEach((t,i)=>{
    line(p,x(t),537,x(t),541,DARK,1,'f-x-tick');
    txt(p,x(t),550,String(t),12,'middle',DARK,'f-x-tick-label');
    if(i<fXTicks.length-1)line(p,x(t+1),537,x(t+1),539,DARK,1,'f-x-minor-tick');
  });
  fYTicks.forEach((t,i)=>{
    line(p,789,y(t),793,y(t),DARK,1,'f-y-tick');
    txt(p,785,y(t),fYTickLabels[i],12,'end',DARK,'f-y-tick-label');
    if(i<fYTicks.length-1)line(p,791,y(t+.2),793,y(t+.2),DARK,1,'f-y-minor-tick');
  });
  fCapTicks.forEach((t,i)=>{
    line(p,cap(t),334,cap(t),331,AX,1,'f-top-tick');
    txt(p,cap(t),321,String(t),12,'middle',AX,'f-top-tick-label');
    if(i<fCapTicks.length-1)line(p,cap(t+10),334,cap(t+10),332,AX,1,'f-top-minor-tick');
  });
  line(p,805,347,832,347,'#111',2,'legend-calculated-swatch');
  line(p,805,362,832,362,BLUE,2,'legend-galvanostatic-swatch');
  txt(p,835,347,'Calculated voltage potential profile',11.4,'start',DARK,'legend-calculated');
  txt(p,835,362,'Galvanostatic charge/discharge curve',11.4,'start',DARK,'legend-galvanostatic');
})();

/* ---------- panel g ---------- */
(function(){
  const p=$('panelG');
  const x=s=>100+s*35.1;
  const yL=v=>613.3+(-475.1-v)*469;
  const yR=v=>613.3+(-461.6-v)*469;
  const BL='#3a7fd8',TE='#1f8a80';
  const nf=gNbFavoured[5],ne=gNbEdge[4],mf=gMnFavoured[2],me=gMnEdge[1];
  line(p,x(0),yL(nf),x(0)+15,yL(nf),'#222',1,'nb-favoured-solid-level');
  line(p,x(0)+15,yL(nf),x(1.75),yL(nf),'#222',1,'nb-favoured-dash-level','10 4');
  line(p,x(1),yL(ne),x(1)+13,yL(ne),'#222',1,'nb-edge-solid-level');
  line(p,x(1)+13,yL(ne),x(2),yL(ne),'#222',1,'nb-edge-dash-level','7 3');
  line(p,x(1.25),yL(nf),x(1.25),yL(ne),'#222',1,'nb-gap-arrow');
  tri(p,x(1.25),yL(nf)+1,'up','#222','nb-gap-arrow-top');
  tri(p,x(1.25),yL(ne)-1,'down','#222','nb-gap-arrow-bottom');
  line(p,x(3),yR(mf),x(3)+15,yR(mf),'#222',1,'mn-favoured-solid-level');
  line(p,x(3)+15,yR(mf),x(4.75),yR(mf),'#222',1,'mn-favoured-dash-level','10 4');
  line(p,x(4),yR(me),x(4)+13,yR(me),'#222',1,'mn-edge-solid-level');
  line(p,x(4)+13,yR(me),x(5),yR(me),'#222',1,'mn-edge-dash-level','7 3');
  line(p,x(4.2),yR(mf),x(4.2),yR(me),'#222',1,'mn-gap-arrow');
  tri(p,x(4.2),yR(mf)+1,'up','#222','mn-gap-arrow-top');
  tri(p,x(4.2),yR(me)-1,'down','#222','mn-gap-arrow-bottom');
  const pt=(cx,cy,c,name)=>mk('circle',{cx:cx,cy:cy,r:3.2,fill:'#fff',stroke:c,'stroke-width':1},p,name);
  gNbFavoured.forEach(v=>pt(x(gCategorySlots[0]),yL(v),'#444','nb-favoured-point'));
  gNbEdge.forEach(v=>pt(x(gCategorySlots[1]),yL(v),'#444','nb-edge-point'));
  gMnFavoured.forEach(v=>pt(x(gCategorySlots[2]),yR(v),'#8fd0ea','mn-favoured-point'));
  gMnEdge.forEach(v=>pt(x(gCategorySlots[3]),yR(v),'#8fd0ea','mn-edge-point'));
  line(p,83,613,293,613,'#555',1.2,'g-top-axis');
  line(p,83,824,293,824,'#555',1.2,'g-bottom-axis');
  line(p,83,613,83,824,BL,1.3,'g-left-axis');
  line(p,293,613,293,824,TE,1.3,'g-right-axis');
  gLeftTicks.forEach((t,i)=>{
    line(p,79,yL(t),83,yL(t),BL,1,'g-left-tick');
    txt(p,76,yL(t),gLeftTickLabels[i],10,'end',BL,'g-left-tick-label');
  });
  gRightTicks.forEach((t,i)=>{
    line(p,293,yR(t),297,yR(t),TE,1,'g-right-tick');
    txt(p,298,yR(t),gRightTickLabels[i],10,'start',TE,'g-right-tick-label');
  });
  [0,1,2,3,4,5].forEach(s=>line(p,x(s),824,x(s),828,'#444',1,'g-x-tick'));
  gCategorySlots.forEach((s,i)=>{
    const c=i<2?'#66c0f0':'#b020b0',cx=x(s)+(i%2?5:3)+(i===3?1:i===2?1:0);
    txt(p,cx,838,'Na',13,'middle',c,'g-category-label');
    txt(p,cx+11,850,gCategoryNames[i],8.5,'middle',c,'g-category-subscript');
  });
})();

/* ---------- panels h and i ---------- */
function drawLegendEntry(p,x1,x2,y,c,label,tx,name){
  line(p,x1,y,x2,y,c,3,name+'-swatch');
  mk('circle',{cx:(x1+x2)/2,cy:y,r:3.7,fill:'#fff',stroke:c,'stroke-width':1.4},p,name+'-marker');
  txt(p,tx,y,label,13.4,'start',DARK,name);
}
function sub(p,x,y,main,s,name){
  const t=mk('text',{x:x,y:y,'font-size':15},p,name);
  t.textContent=main;
  const u=document.createElementNS(NS,'tspan');
  u.setAttribute('dy','3.5');
  u.setAttribute('font-size','8');
  
  
  u.textContent=s;
  t.appendChild(u);
}
const DOT='#1f6fc0',BLUEC='#59bdf2',ORG='#f08a1c';
function series(p,xs,ys,fx,fy,c,w,name){
  smooth(p,xs,ys,fx,fy,c,w,name+'-line');
  xs.forEach((v,i)=>mk('circle',{cx:fx(v),cy:fy(ys[i]),r:3.7,fill:'#fff',stroke:c,'stroke-width':1.4},p,name+'-point'));
}
(function(){
  const p=$('panelH');
  const x=v=>450+v*36.8,y=v=>792.7-v*590;
  series(p,diffCoords,hNbEnergy,x,y,BLUEC,2.9,'h-p2-namnnb');
  series(p,diffCoords,hMnEnergy,x,y,ORG,2.9,'h-p2-namn');
  const pk1=hMnEnergy[3],pk2=hNbEnergy[3],end2=hNbEnergy[6];
  line(p,x(2.28),y(pk1),x(3),y(pk1),DOT,1.3,'h-peak-namn-guide','1.5 1.5');
  line(p,x(0),y(0),x(2.67),y(0),DOT,1.3,'h-base-namn-guide','1.5 1.5');
  line(p,x(2.51),y(pk1),x(2.51),y(0),DOT,1.1,'h-barrier-namn','1.5 1.5');
  tri(p,x(2.51),y(pk1)+1,'up',DOT,'h-barrier-namn-top');
  tri(p,x(2.51),y(0)-1,'down',DOT,'h-barrier-namn-bottom');
  line(p,x(3),y(pk2),x(3.65),y(pk2),DOT,1.3,'h-peak-nb-guide','1.5 1.5');
  line(p,x(2.88),y(end2),x(5.9),y(end2),DOT,1.3,'h-base-nb-guide','1.5 1.5');
  line(p,x(3.43),y(pk2),x(3.43),y(end2),DOT,1.1,'h-barrier-nb','1.5 1.5');
  tri(p,x(3.43),y(pk2)+1,'up',DOT,'h-barrier-nb-top');
  tri(p,x(3.43),y(end2)-1,'down',DOT,'h-barrier-nb-bottom');
  box(p,432,614,258,208,DARK,1.3,'h-frame');
  diffCoords.forEach(t=>{
    line(p,x(t),822,x(t),826,DARK,1,'h-x-tick');
    txt(p,x(t),836,String(t),13,'middle',DARK,'h-x-tick-label');
  });
  hYTicks.forEach((t,i)=>{
    line(p,428,y(t),432,y(t),DARK,1,'h-y-tick');
    txt(p,426,y(t),hYTickLabels[i],13.5,'end',DARK,'h-y-tick-label');
    if(i<3)line(p,430,y(t+.05),432,y(t+.05),DARK,1,'h-y-minor-tick');
  });
  drawLegendEntry(p,581,607,627,BLUEC,'P2-NaMNNb',609,'h-legend-p2-namnnb');
  drawLegendEntry(p,582,607,643,ORG,'P2-NaMN',610,'h-legend-p2-namn');
  txt(p,510,783,'0.27 eV',15,'middle',DARK,'h-label-0-27');
  txt(p,620,796,'0.22 eV',15,'middle',DARK,'h-label-0-22');
  sub(p,436,812,'Na','e1','h-na-e1');
  sub(p,659,816,'Na','e2','h-na-e2');
})();
(function(){
  const p=$('panelI');
  const x=v=>808+v*36.9,y=v=>810.3-v*218.5;
  series(p,diffCoords,iNbEnergy,x,y,BLUEC,2.9,'i-p2-namnnb');
  series(p,diffCoords,iMnEnergy,x,y,ORG,2.9,'i-p2-namn');
  const pk1=iMnEnergy[3],pk2=iNbEnergy[3];
  line(p,x(2.28),y(pk1),x(3),y(pk1),DOT,1.3,'i-peak-namn-guide','1.5 1.5');
  line(p,x(0),y(0),x(2.58),y(0),DOT,1.3,'i-base-namn-guide','1.5 1.5');
  line(p,x(2.55),y(pk1),x(2.55),y(0),DOT,1.1,'i-barrier-namn','1.5 1.5');
  tri(p,x(2.55),y(pk1)+1,'up',DOT,'i-barrier-namn-top');
  tri(p,x(2.55),y(0)-1,'down',DOT,'i-barrier-namn-bottom');
  line(p,x(3),y(pk2),x(3.68),y(pk2),DOT,1.3,'i-peak-nb-guide','1.5 1.5');
  line(p,x(3.4),y(0),x(6),y(0),DOT,1.3,'i-base-nb-guide','1.5 1.5');
  line(p,x(3.62),y(pk2),x(3.62),y(0),DOT,1.1,'i-barrier-nb','1.5 1.5');
  tri(p,x(3.62),y(pk2)+1,'up',DOT,'i-barrier-nb-top');
  tri(p,x(3.62),y(0)-1,'down',DOT,'i-barrier-nb-bottom');
  box(p,789,614,258,208,DARK,1.3,'i-frame');
  diffCoords.forEach(t=>{
    line(p,x(t),822,x(t),826,DARK,1,'i-x-tick');
    txt(p,x(t),836,String(t),13,'middle',DARK,'i-x-tick-label');
  });
  iYTicks.forEach((t,i)=>{
    line(p,785,y(t),789,y(t),DARK,1,'i-y-tick');
    txt(p,783,y(t),iYTickLabels[i],13,'end',DARK,'i-y-tick-label');
    if(i<4)line(p,787,y(t+.1),789,y(t+.1),DARK,1,'i-y-minor-tick');
  });
  drawLegendEntry(p,939,965,626,BLUEC,'P2-NaMNNb',967,'i-legend-p2-namnnb');
  drawLegendEntry(p,939,965,642,ORG,'P2-NaMN',968,'i-legend-p2-namn');
  txt(p,863,798,'0.700 eV',15.5,'middle',DARK,'i-label-0-700');
  txt(p,976,801,'0.667 eV',15.5,'middle',DARK,'i-label-0-667');
  sub(p,793,794,'Na','e1','i-na-e1');
  sub(p,1016,792,'Na','e2','i-na-e2');
})();
</script>
</body>
</html>
